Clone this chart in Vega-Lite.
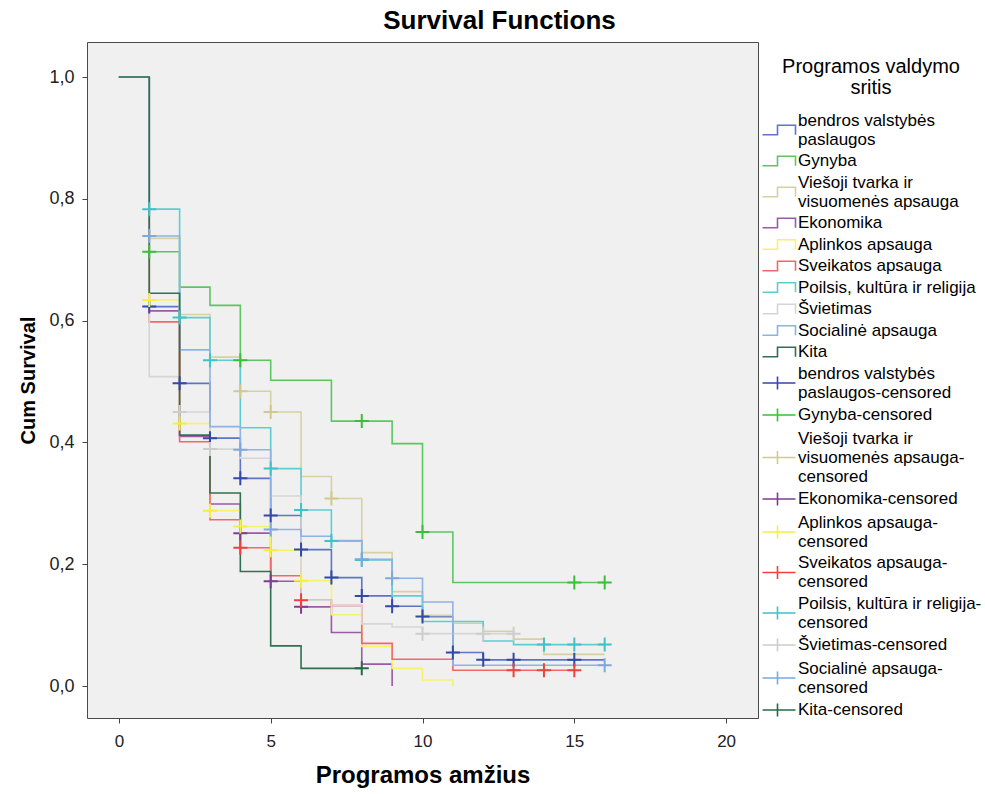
{
  "$schema": "https://vega.github.io/schema/vega-lite/v6.json",
  "width": 671,
  "height": 676,
  "autosize": {"type": "none"},
  "padding": {"left": 87, "top": 42, "right": 227, "bottom": 76},
  "background": "white",
  "view": {"fill": "#F0F0F0", "stroke": "#4a4a4a", "strokeWidth": 1},
  "title": {"text": "Survival Functions", "anchor": "middle", "frame": "group", "dx": 77, "fontSize": 26, "fontWeight": "bold", "font": "Liberation Sans", "color": "#000000", "offset": 8},
  "config": {
    "font": "Liberation Sans",
    "view": {"fill": "#F0F0F0", "stroke": "#4a4a4a", "strokeWidth": 1},
    "legend": {"labelFont": "Liberation Sans", "titleFont": "Liberation Sans"}
  },
  "datasets": {
    "lines": [
      {"k":"bendros valstybės|paslaugos","t":0,"s":1},{"k":"bendros valstybės|paslaugos","t":1,"s":0.623},{"k":"bendros valstybės|paslaugos","t":2,"s":0.497},{"k":"bendros valstybės|paslaugos","t":3,"s":0.407},{"k":"bendros valstybės|paslaugos","t":4,"s":0.341},{"k":"bendros valstybės|paslaugos","t":5,"s":0.28},{"k":"bendros valstybės|paslaugos","t":6,"s":0.224},{"k":"bendros valstybės|paslaugos","t":7,"s":0.178},{"k":"bendros valstybės|paslaugos","t":8,"s":0.148},{"k":"bendros valstybės|paslaugos","t":9,"s":0.131},{"k":"bendros valstybės|paslaugos","t":10,"s":0.114},{"k":"bendros valstybės|paslaugos","t":11,"s":0.055},{"k":"bendros valstybės|paslaugos","t":12,"s":0.043},{"k":"bendros valstybės|paslaugos","t":16,"s":0.043},
      {"k":"Gynyba","t":0,"s":1},{"k":"Gynyba","t":1,"s":0.713},{"k":"Gynyba","t":2,"s":0.655},{"k":"Gynyba","t":3,"s":0.625},{"k":"Gynyba","t":4,"s":0.535},{"k":"Gynyba","t":5,"s":0.502},{"k":"Gynyba","t":7,"s":0.435},{"k":"Gynyba","t":9,"s":0.398},{"k":"Gynyba","t":10,"s":0.253},{"k":"Gynyba","t":11,"s":0.17},{"k":"Gynyba","t":16,"s":0.17},
      {"k":"Viešoji tvarka ir|visuomenės apsauga","t":0,"s":1},{"k":"Viešoji tvarka ir|visuomenės apsauga","t":1,"s":0.735},{"k":"Viešoji tvarka ir|visuomenės apsauga","t":2,"s":0.61},{"k":"Viešoji tvarka ir|visuomenės apsauga","t":3,"s":0.54},{"k":"Viešoji tvarka ir|visuomenės apsauga","t":4,"s":0.484},{"k":"Viešoji tvarka ir|visuomenės apsauga","t":5,"s":0.45},{"k":"Viešoji tvarka ir|visuomenės apsauga","t":6,"s":0.344},{"k":"Viešoji tvarka ir|visuomenės apsauga","t":7,"s":0.308},{"k":"Viešoji tvarka ir|visuomenės apsauga","t":8,"s":0.219},{"k":"Viešoji tvarka ir|visuomenės apsauga","t":9,"s":0.155},{"k":"Viešoji tvarka ir|visuomenės apsauga","t":10,"s":0.116},{"k":"Viešoji tvarka ir|visuomenės apsauga","t":11,"s":0.103},{"k":"Viešoji tvarka ir|visuomenės apsauga","t":12,"s":0.09},{"k":"Viešoji tvarka ir|visuomenės apsauga","t":13,"s":0.077},{"k":"Viešoji tvarka ir|visuomenės apsauga","t":14,"s":0.052},{"k":"Viešoji tvarka ir|visuomenės apsauga","t":16,"s":0.052},
      {"k":"Ekonomika","t":0,"s":1},{"k":"Ekonomika","t":1,"s":0.616},{"k":"Ekonomika","t":2,"s":0.41},{"k":"Ekonomika","t":3,"s":0.299},{"k":"Ekonomika","t":4,"s":0.251},{"k":"Ekonomika","t":5,"s":0.172},{"k":"Ekonomika","t":6,"s":0.13},{"k":"Ekonomika","t":7,"s":0.088},{"k":"Ekonomika","t":8,"s":0.036},{"k":"Ekonomika","t":9,"s":0},
      {"k":"Aplinkos apsauga","t":0,"s":1},{"k":"Aplinkos apsauga","t":1,"s":0.634},{"k":"Aplinkos apsauga","t":2,"s":0.431},{"k":"Aplinkos apsauga","t":3,"s":0.288},{"k":"Aplinkos apsauga","t":4,"s":0.262},{"k":"Aplinkos apsauga","t":5,"s":0.223},{"k":"Aplinkos apsauga","t":6,"s":0.173},{"k":"Aplinkos apsauga","t":7,"s":0.117},{"k":"Aplinkos apsauga","t":8,"s":0.065},{"k":"Aplinkos apsauga","t":9,"s":0.029},{"k":"Aplinkos apsauga","t":10,"s":0.01},{"k":"Aplinkos apsauga","t":11,"s":0},
      {"k":"Sveikatos apsauga","t":0,"s":1},{"k":"Sveikatos apsauga","t":1,"s":0.598},{"k":"Sveikatos apsauga","t":2,"s":0.401},{"k":"Sveikatos apsauga","t":3,"s":0.273},{"k":"Sveikatos apsauga","t":4,"s":0.227},{"k":"Sveikatos apsauga","t":5,"s":0.181},{"k":"Sveikatos apsauga","t":6,"s":0.141},{"k":"Sveikatos apsauga","t":7,"s":0.132},{"k":"Sveikatos apsauga","t":8,"s":0.07},{"k":"Sveikatos apsauga","t":9,"s":0.044},{"k":"Sveikatos apsauga","t":11,"s":0.026},{"k":"Sveikatos apsauga","t":15,"s":0.026},
      {"k":"Poilsis, kultūra ir religija","t":0,"s":1},{"k":"Poilsis, kultūra ir religija","t":1,"s":0.783},{"k":"Poilsis, kultūra ir religija","t":2,"s":0.605},{"k":"Poilsis, kultūra ir religija","t":3,"s":0.535},{"k":"Poilsis, kultūra ir religija","t":4,"s":0.424},{"k":"Poilsis, kultūra ir religija","t":5,"s":0.357},{"k":"Poilsis, kultūra ir religija","t":6,"s":0.289},{"k":"Poilsis, kultūra ir religija","t":7,"s":0.238},{"k":"Poilsis, kultūra ir religija","t":8,"s":0.207},{"k":"Poilsis, kultūra ir religija","t":9,"s":0.148},{"k":"Poilsis, kultūra ir religija","t":10,"s":0.106},{"k":"Poilsis, kultūra ir religija","t":12,"s":0.074},{"k":"Poilsis, kultūra ir religija","t":13,"s":0.068},{"k":"Poilsis, kultūra ir religija","t":16,"s":0.068},
      {"k":"Švietimas","t":0,"s":1},{"k":"Švietimas","t":1,"s":0.508},{"k":"Švietimas","t":2,"s":0.45},{"k":"Švietimas","t":3,"s":0.389},{"k":"Švietimas","t":4,"s":0.374},{"k":"Švietimas","t":5,"s":0.312},{"k":"Švietimas","t":6,"s":0.141},{"k":"Švietimas","t":7,"s":0.132},{"k":"Švietimas","t":8,"s":0.102},{"k":"Švietimas","t":9,"s":0.097},{"k":"Švietimas","t":10,"s":0.086},{"k":"Švietimas","t":13,"s":0.086},
      {"k":"Socialinė apsauga","t":0,"s":1},{"k":"Socialinė apsauga","t":1,"s":0.739},{"k":"Socialinė apsauga","t":2,"s":0.552},{"k":"Socialinė apsauga","t":3,"s":0.426},{"k":"Socialinė apsauga","t":4,"s":0.388},{"k":"Socialinė apsauga","t":5,"s":0.257},{"k":"Socialinė apsauga","t":6,"s":0.246},{"k":"Socialinė apsauga","t":7,"s":0.239},{"k":"Socialinė apsauga","t":8,"s":0.208},{"k":"Socialinė apsauga","t":9,"s":0.177},{"k":"Socialinė apsauga","t":10,"s":0.138},{"k":"Socialinė apsauga","t":11,"s":0.034},{"k":"Socialinė apsauga","t":16,"s":0.034},
      {"k":"Kita","t":0,"s":1},{"k":"Kita","t":1,"s":0.645},{"k":"Kita","t":2,"s":0.412},{"k":"Kita","t":3,"s":0.317},{"k":"Kita","t":4,"s":0.188},{"k":"Kita","t":5,"s":0.066},{"k":"Kita","t":6,"s":0.029},{"k":"Kita","t":8,"s":0.029}
    ],
    "cens": [
      {"k":"bendros valstybės|paslaugos-censored","t":1,"s":0.623},{"k":"bendros valstybės|paslaugos-censored","t":2,"s":0.497},{"k":"bendros valstybės|paslaugos-censored","t":3,"s":0.407},{"k":"bendros valstybės|paslaugos-censored","t":4,"s":0.341},{"k":"bendros valstybės|paslaugos-censored","t":5,"s":0.28},{"k":"bendros valstybės|paslaugos-censored","t":6,"s":0.224},{"k":"bendros valstybės|paslaugos-censored","t":7,"s":0.178},{"k":"bendros valstybės|paslaugos-censored","t":8,"s":0.148},{"k":"bendros valstybės|paslaugos-censored","t":9,"s":0.131},{"k":"bendros valstybės|paslaugos-censored","t":10,"s":0.114},{"k":"bendros valstybės|paslaugos-censored","t":11,"s":0.055},{"k":"bendros valstybės|paslaugos-censored","t":12,"s":0.043},{"k":"bendros valstybės|paslaugos-censored","t":13,"s":0.043},{"k":"bendros valstybės|paslaugos-censored","t":15,"s":0.043},
      {"k":"Gynyba-censored","t":1,"s":0.713},{"k":"Gynyba-censored","t":4,"s":0.535},{"k":"Gynyba-censored","t":8,"s":0.435},{"k":"Gynyba-censored","t":10,"s":0.253},{"k":"Gynyba-censored","t":15,"s":0.17},{"k":"Gynyba-censored","t":16,"s":0.17},
      {"k":"Viešoji tvarka ir|visuomenės apsauga-|censored","t":4,"s":0.484},{"k":"Viešoji tvarka ir|visuomenės apsauga-|censored","t":5,"s":0.45},{"k":"Viešoji tvarka ir|visuomenės apsauga-|censored","t":7,"s":0.308},
      {"k":"Ekonomika-censored","t":4,"s":0.251},{"k":"Ekonomika-censored","t":5,"s":0.172},{"k":"Ekonomika-censored","t":6,"s":0.13},
      {"k":"Aplinkos apsauga-|censored","t":1,"s":0.634},{"k":"Aplinkos apsauga-|censored","t":2,"s":0.431},{"k":"Aplinkos apsauga-|censored","t":3,"s":0.288},{"k":"Aplinkos apsauga-|censored","t":4,"s":0.262},{"k":"Aplinkos apsauga-|censored","t":5,"s":0.223},{"k":"Aplinkos apsauga-|censored","t":6,"s":0.173},
      {"k":"Sveikatos apsauga-|censored","t":4,"s":0.227},{"k":"Sveikatos apsauga-|censored","t":6,"s":0.141},{"k":"Sveikatos apsauga-|censored","t":13,"s":0.026},{"k":"Sveikatos apsauga-|censored","t":14,"s":0.026},{"k":"Sveikatos apsauga-|censored","t":15,"s":0.026},
      {"k":"Poilsis, kultūra ir religija-|censored","t":1,"s":0.783},{"k":"Poilsis, kultūra ir religija-|censored","t":2,"s":0.605},{"k":"Poilsis, kultūra ir religija-|censored","t":3,"s":0.535},{"k":"Poilsis, kultūra ir religija-|censored","t":5,"s":0.357},{"k":"Poilsis, kultūra ir religija-|censored","t":6,"s":0.289},{"k":"Poilsis, kultūra ir religija-|censored","t":7,"s":0.238},{"k":"Poilsis, kultūra ir religija-|censored","t":8,"s":0.207},{"k":"Poilsis, kultūra ir religija-|censored","t":14,"s":0.068},{"k":"Poilsis, kultūra ir religija-|censored","t":15,"s":0.068},{"k":"Poilsis, kultūra ir religija-|censored","t":16,"s":0.068},
      {"k":"Švietimas-censored","t":2,"s":0.45},{"k":"Švietimas-censored","t":3,"s":0.389},{"k":"Švietimas-censored","t":10,"s":0.086},{"k":"Švietimas-censored","t":12,"s":0.086},{"k":"Švietimas-censored","t":13,"s":0.086},
      {"k":"Socialinė apsauga-|censored","t":1,"s":0.739},{"k":"Socialinė apsauga-|censored","t":4,"s":0.388},{"k":"Socialinė apsauga-|censored","t":5,"s":0.257},{"k":"Socialinė apsauga-|censored","t":8,"s":0.208},{"k":"Socialinė apsauga-|censored","t":9,"s":0.177},{"k":"Socialinė apsauga-|censored","t":16,"s":0.034},
      {"k":"Kita-censored","t":8,"s":0.029}
    ],
    "keys": [
      {"k":"bendros valstybės|paslaugos"},{"k":"Gynyba"},{"k":"Viešoji tvarka ir|visuomenės apsauga"},{"k":"Ekonomika"},{"k":"Aplinkos apsauga"},{"k":"Sveikatos apsauga"},{"k":"Poilsis, kultūra ir religija"},{"k":"Švietimas"},{"k":"Socialinė apsauga"},{"k":"Kita"},
      {"k":"bendros valstybės|paslaugos-censored"},{"k":"Gynyba-censored"},{"k":"Viešoji tvarka ir|visuomenės apsauga-|censored"},{"k":"Ekonomika-censored"},{"k":"Aplinkos apsauga-|censored"},{"k":"Sveikatos apsauga-|censored"},{"k":"Poilsis, kultūra ir religija-|censored"},{"k":"Švietimas-censored"},{"k":"Socialinė apsauga-|censored"},{"k":"Kita-censored"}
    ]
  },
  "layer": [
    {
      "data": {"name": "lines"},
      "mark": {"type": "line", "interpolate": "step-after", "strokeWidth": 1.6},
      "encoding": {
        "x": {"field": "t", "type": "quantitative", "scale": {"domain": [-1.05, 21.05], "nice": false, "zero": false},
          "axis": {"values": [0, 5, 10, 15, 20], "title": "Programos amžius", "titleFontSize": 24, "titleFontWeight": "bold", "titleColor": "#000000", "titlePadding": 14, "labelFontSize": 17, "labelColor": "#222222", "labelPadding": 10, "tickSize": 5, "tickColor": "#444444", "domain": false, "grid": false}},
        "y": {"field": "s", "type": "quantitative", "scale": {"domain": [-0.0525, 1.0575], "nice": false, "zero": false},
          "axis": {"values": [0, 0.2, 0.4, 0.6, 0.8, 1.0], "labelExpr": "replace(format(datum.value, '.1f'), '.', ',')", "title": "Cum Survival", "titleFontSize": 20, "titleFontWeight": "bold", "titleColor": "#000000", "titlePadding": 10, "labelFontSize": 18, "labelColor": "#222222", "labelPadding": 8, "tickSize": 5, "tickColor": "#444444", "domain": false, "grid": false}},
        "stroke": {"field": "k", "type": "nominal", "legend": null,
          "scale": {
            "domain": ["bendros valstybės|paslaugos-censored","Gynyba-censored","Viešoji tvarka ir|visuomenės apsauga-|censored","Ekonomika-censored","Aplinkos apsauga-|censored","Sveikatos apsauga-|censored","Poilsis, kultūra ir religija-|censored","Švietimas-censored","Socialinė apsauga-|censored","Kita-censored","bendros valstybės|paslaugos","Gynyba","Viešoji tvarka ir|visuomenės apsauga","Ekonomika","Aplinkos apsauga","Sveikatos apsauga","Poilsis, kultūra ir religija","Švietimas","Socialinė apsauga","Kita"],
            "range": ["#3348A8","#3BBF3B","#CFC98E","#7E3C92","#F5F03C","#F04040","#3CC4C8","#CDCDCD","#7FA8DE","#266A45","#5E74C6","#5CC660","#D6D1A0","#9A5AA8","#F7F26A","#F26868","#5CCDD0","#D5D5D5","#8EB2E2","#2F7150"]
          }}
      }
    },
    {
      "data": {"name": "cens"},
      "mark": {"type": "point", "shape": "M-1,0H1M0,-1V1", "size": 196, "strokeWidth": 2, "filled": false, "opacity": 1},
      "encoding": {
        "x": {"field": "t", "type": "quantitative"},
        "y": {"field": "s", "type": "quantitative"},
        "stroke": {"field": "k", "type": "nominal", "legend": null}
      }
    },
    {
      "data": {"name": "keys"},
      "mark": {"type": "point", "filled": false, "opacity": 0, "strokeWidth": 1.6},
      "encoding": {
        "color": {"field": "k", "type": "nominal",
          "scale": {
            "domain": ["bendros valstybės|paslaugos","Gynyba","Viešoji tvarka ir|visuomenės apsauga","Ekonomika","Aplinkos apsauga","Sveikatos apsauga","Poilsis, kultūra ir religija","Švietimas","Socialinė apsauga","Kita","bendros valstybės|paslaugos-censored","Gynyba-censored","Viešoji tvarka ir|visuomenės apsauga-|censored","Ekonomika-censored","Aplinkos apsauga-|censored","Sveikatos apsauga-|censored","Poilsis, kultūra ir religija-|censored","Švietimas-censored","Socialinė apsauga-|censored","Kita-censored"],
            "range": ["#5E74C6","#5CC660","#D6D1A0","#9A5AA8","#F7F26A","#F26868","#5CCDD0","#D5D5D5","#8EB2E2","#2F7150","#3348A8","#3BBF3B","#CFC98E","#7E3C92","#F5F03C","#F04040","#3CC4C8","#CDCDCD","#7FA8DE","#266A45"]
          },
          "legend": {"orient": "none", "legendX": 673, "legendY": 15, "title": ["Programos valdymo", "sritis"], "titleFontSize": 20, "titleFontWeight": "normal", "titleColor": "#000000", "titleAnchor": "middle", "titleAlign": "center", "titleLineHeight": 21, "titlePadding": 14, "labelFontSize": 17, "labelColor": "#000000", "labelLineHeight": 19, "labelExpr": "split(datum.label, '|')", "labelLimit": 300, "labelOffset": 21, "symbolSize": 144, "symbolStrokeWidth": 1.6, "symbolOpacity": 1, "rowPadding": 3.5, "padding": 0}},
        "shape": {"field": "k", "type": "nominal",
          "scale": {
            "domain": ["bendros valstybės|paslaugos","Gynyba","Viešoji tvarka ir|visuomenės apsauga","Ekonomika","Aplinkos apsauga","Sveikatos apsauga","Poilsis, kultūra ir religija","Švietimas","Socialinė apsauga","Kita","bendros valstybės|paslaugos-censored","Gynyba-censored","Viešoji tvarka ir|visuomenės apsauga-|censored","Ekonomika-censored","Aplinkos apsauga-|censored","Sveikatos apsauga-|censored","Poilsis, kultūra ir religija-|censored","Švietimas-censored","Socialinė apsauga-|censored","Kita-censored"],
            "range": ["M-1,2.38H1.5V0.78H4.5V2.38","M-1,0.8H1.5V-0.8H4.5V0.8","M-1,2.38H1.5V0.78H4.5V2.38","M-1,0.8H1.5V-0.8H4.5V0.8","M-1,0.8H1.5V-0.8H4.5V0.8","M-1,0.8H1.5V-0.8H4.5V0.8","M-1,0.8H1.5V-0.8H4.5V0.8","M-1,0.8H1.5V-0.8H4.5V0.8","M-1,0.8H1.5V-0.8H4.5V0.8","M-1,0.8H1.5V-0.8H4.5V0.8","M-1,1.58H4.5M1.5,0.48V2.68","M-1,0H4.5M1.5,-1.1V1.1","M-1,3.17H4.5M1.5,2.07V4.27","M-1,0H4.5M1.5,-1.1V1.1","M-1,1.58H4.5M1.5,0.48V2.68","M-1,1.58H4.5M1.5,0.48V2.68","M-1,1.58H4.5M1.5,0.48V2.68","M-1,0H4.5M1.5,-1.1V1.1","M-1,1.58H4.5M1.5,0.48V2.68","M-1,0H4.5M1.5,-1.1V1.1"]
          },
          "legend": {"orient": "none", "legendX": 673, "legendY": 15}}
      }
    }
  ]
}
